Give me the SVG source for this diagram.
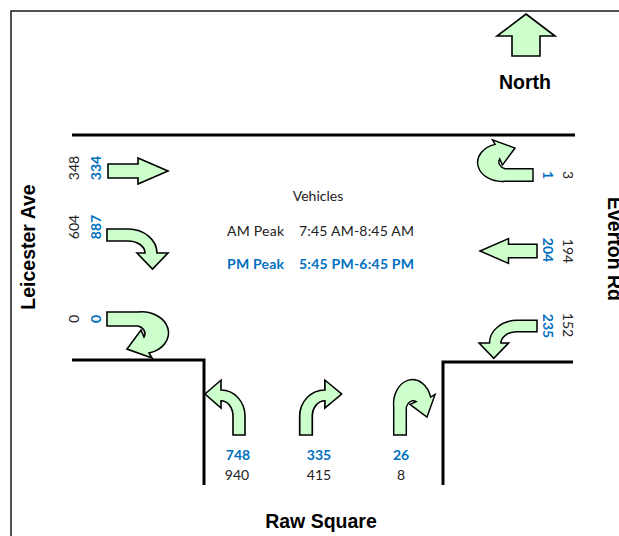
<svg xmlns="http://www.w3.org/2000/svg" xmlns:xlink="http://www.w3.org/1999/xlink" width="619" height="536" viewBox="0 0 619 536">
  <style>
    .frame { fill: none; stroke: #1a1a1a; stroke-width: 1.5; }
    .road { fill: none; stroke: #000; stroke-width: 3; }
    .arrow { fill: #ccffcc; stroke: #000; stroke-width: 1.6; stroke-linejoin: miter; }
    .street { font-family: "Liberation Sans", Arial, sans-serif; font-weight: bold; font-size: 19.5px; fill: #000; text-anchor: middle; }
    .n { font-family: Lato, "Liberation Sans", sans-serif; font-size: 14px; fill: #222; text-anchor: middle; }
    .nb { font-family: Lato, "Liberation Sans", sans-serif; font-size: 14px; font-weight: bold; fill: #0070c0; text-anchor: middle; }
    .t { font-family: Lato, "Liberation Sans", sans-serif; font-size: 14px; fill: #222; }
    .tb { font-family: Lato, "Liberation Sans", sans-serif; font-size: 14px; font-weight: bold; fill: #0070c0; }
  </style>
  <defs>
    <!-- movement arrows, drawn heading +x from the shaft start -->
    <path id="straight" class="arrow" d="M0,-7 H30 V-13 L60,0 L30,13 V7 H0 Z"/>
    <path id="turn" class="arrow" d="M0,-6 H21 A29,24 0 0 1 50,18 H61 L45.5,34 L30,18 H38 A17,12 0 0 0 21,6 H0 Z"/>
    <path id="uturn" class="arrow" d="M0,-7 H31 A27,21 0 0 1 42,34 L45,39 L20,30 L34,11 L37,18 A10,8 0 0 0 31,7 H0 Z"/>
  </defs>

  <!-- page frame -->
  <path class="frame" d="M11,536 V11 H619"/>

  <!-- kerb lines -->
  <g id="roads">
    <path class="road" d="M72,135 H575"/>
    <path class="road" d="M72,360 H204 V485"/>
    <path class="road" d="M573,362 H443 V485"/>
  </g>

  <!-- north marker -->
  <g id="north">
    <polygon class="arrow" points="526,14 555,36 540,36 540,56 512,56 512,36 497,36"/>
    <text class="street" x="525" y="89">North</text>
  </g>

  <!-- street names -->
  <text id="leicester-ave" class="street" transform="translate(35,247) rotate(-90)">Leicester Ave</text>
  <text id="everton-rd" class="street" transform="translate(608,249) rotate(90)">Everton Rd</text>
  <text id="raw-square" class="street" x="321" y="528">Raw Square</text>

  <!-- peak period legend -->
  <g id="legend">
    <text class="t" x="318" y="201" text-anchor="middle">Vehicles</text>
    <text class="t" x="227" y="236" textLength="57">AM Peak</text>
    <text class="t" x="299" y="236" textLength="115">7:45 AM-8:45 AM</text>
    <text class="tb" x="227" y="269" textLength="57">PM Peak</text>
    <text class="tb" x="299" y="269" textLength="115">5:45 PM-6:45 PM</text>
  </g>

  <!-- Leicester Ave approach -->
  <g id="west-through">
    <use xlink:href="#straight" transform="translate(108,171)"/>
    <text class="n" transform="translate(79,168) rotate(-90)">348</text>
    <text class="nb" transform="translate(101,168) rotate(-90)">334</text>
  </g>
  <g id="west-right">
    <use xlink:href="#turn" transform="translate(107,235)"/>
    <text class="n" transform="translate(79,227) rotate(-90)">604</text>
    <text class="nb" transform="translate(101,227) rotate(-90)">887</text>
  </g>
  <g id="west-uturn">
    <use xlink:href="#uturn" transform="translate(107,319)"/>
    <text class="n" transform="translate(79,319) rotate(-90)">0</text>
    <text class="nb" transform="translate(101,319) rotate(-90)">0</text>
  </g>

  <!-- Everton Rd approach -->
  <g id="east-uturn">
    <use xlink:href="#uturn" transform="translate(533,175) rotate(180) scale(0.9)"/>
    <text class="n" transform="translate(563,175) rotate(90)">3</text>
    <text class="nb" transform="translate(543,175) rotate(90)">1</text>
  </g>
  <g id="east-through">
    <use xlink:href="#straight" transform="translate(537,251) rotate(180) scale(0.95)"/>
    <text class="n" transform="translate(563,251) rotate(90)">194</text>
    <text class="nb" transform="translate(543,250) rotate(90)">204</text>
  </g>
  <g id="east-left">
    <use xlink:href="#turn" transform="translate(537,326) scale(-0.95,0.95)"/>
    <text class="n" transform="translate(563,325) rotate(90)">152</text>
    <text class="nb" transform="translate(543,326) rotate(90)">235</text>
  </g>

  <!-- Raw Square approach -->
  <g id="south-left">
    <use xlink:href="#turn" transform="translate(239,435) rotate(-90) scale(0.9,-1)"/>
    <text class="nb" x="238" y="460">748</text>
    <text class="n" x="237" y="480">940</text>
  </g>
  <g id="south-right">
    <use xlink:href="#turn" transform="translate(306,435) rotate(-90) scale(0.9,1.05)"/>
    <text class="nb" x="319" y="460">335</text>
    <text class="n" x="319" y="480">415</text>
  </g>
  <g id="south-uturn">
    <use xlink:href="#uturn" transform="translate(400,435) rotate(-90) scale(0.9)"/>
    <text class="nb" x="401" y="460">26</text>
    <text class="n" x="401" y="480">8</text>
  </g>
</svg>
